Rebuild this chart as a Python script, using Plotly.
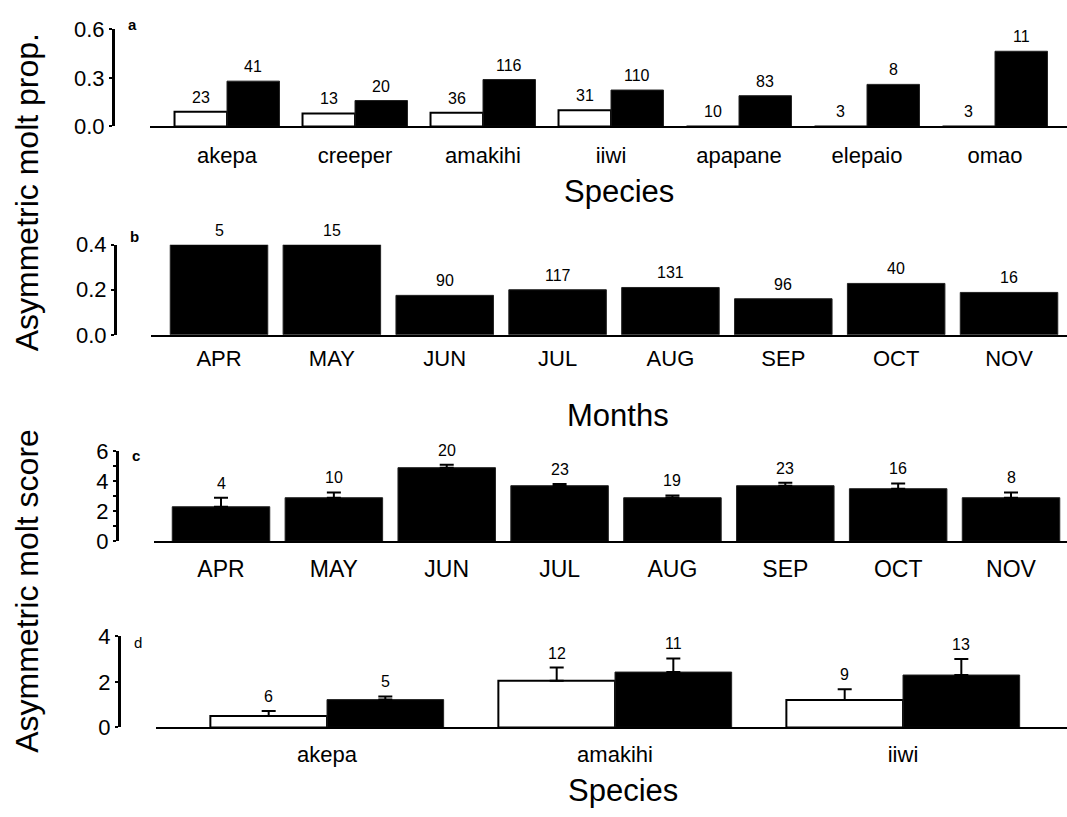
import plotly.graph_objects as go

FONT = "Liberation Sans, Arial, Helvetica, sans-serif"
W, H = 1067, 817

# ---- panel a: proportion with asymmetric molt, by species ----
species_a = ["akepa", "creeper", "amakihi", "iiwi", "apapane", "elepaio", "omao"]
prop_open = [0.09, 0.08, 0.085, 0.10, 0.0, 0.0, 0.0]
prop_filled = [0.28, 0.16, 0.29, 0.225, 0.19, 0.26, 0.465]
n_open_a = [23, 13, 36, 31, 10, 3, 3]
n_filled_a = [41, 20, 116, 110, 83, 8, 11]

# ---- panel b: proportion with asymmetric molt, by month ----
months = ["APR", "MAY", "JUN", "JUL", "AUG", "SEP", "OCT", "NOV"]
prop_month = [0.40, 0.40, 0.175, 0.20, 0.21, 0.16, 0.228, 0.188]
n_month = [5, 15, 90, 117, 131, 96, 40, 16]

# ---- panel c: asymmetric molt score, by month ----
score_month = [2.3, 2.9, 4.9, 3.7, 2.9, 3.7, 3.5, 2.9]
score_month_se = [0.6, 0.35, 0.2, 0.12, 0.15, 0.2, 0.35, 0.35]
n_score_month = [4, 10, 20, 23, 19, 23, 16, 8]

# ---- panel d: asymmetric molt score, by species ----
species_d = ["akepa", "amakihi", "iiwi"]
score_open = [0.5, 2.05, 1.2]
score_open_se = [0.22, 0.58, 0.48]
score_filled = [1.22, 2.43, 2.3]
score_filled_se = [0.14, 0.6, 0.7]
n_open_d = [6, 12, 9]
n_filled_d = [5, 11, 13]


def fx(p):
    return p / W


def fy(p):
    return 1 - p / H


fig = go.Figure()
annotations = []


def n_labels(xs, tops, ns, xref, yref):
    for x, t, n in zip(xs, tops, ns):
        annotations.append(dict(
            x=x, y=t, xref=xref, yref=yref, text=str(n), showarrow=False,
            yanchor="bottom", xanchor="center", yshift=4,
            font=dict(size=16, color="black", family=FONT)))


def err(se):
    return dict(type="data", array=se, arrayminus=[0] * len(se), symmetric=False,
                color="black", thickness=2, width=7)


# panel a bars (paired)
wa = 0.41
ia = list(range(len(species_a)))
fig.add_trace(go.Bar(x=ia, y=prop_open, width=wa, offset=-wa, xaxis="x", yaxis="y",
                     marker=dict(color="white", line=dict(color="black", width=2))))
fig.add_trace(go.Bar(x=ia, y=prop_filled, width=wa, offset=0, xaxis="x", yaxis="y",
                     marker=dict(color="black", line=dict(color="#222", width=1))))
n_labels([i - wa / 2 for i in ia], prop_open, n_open_a, "x", "y")
n_labels([i + wa / 2 for i in ia], prop_filled, n_filled_a, "x", "y")

# panel b bars
wb = 0.864
ib = list(range(len(months)))
fig.add_trace(go.Bar(x=ib, y=prop_month, width=wb, xaxis="x2", yaxis="y2",
                     marker=dict(color="black", line=dict(color="#222", width=1))))
n_labels(ib, prop_month, n_month, "x2", "y2")

# panel c bars with standard errors
fig.add_trace(go.Bar(x=ib, y=score_month, width=wb, xaxis="x3", yaxis="y3",
                     error_y=err(score_month_se),
                     marker=dict(color="black", line=dict(color="#222", width=1))))
n_labels(ib, [v + e for v, e in zip(score_month, score_month_se)], n_score_month, "x3", "y3")

# panel d bars (paired) with standard errors
wd = 0.405
idd = list(range(len(species_d)))
fig.add_trace(go.Bar(x=idd, y=score_open, width=wd, offset=-wd, xaxis="x4", yaxis="y4",
                     error_y=err(score_open_se),
                     marker=dict(color="white", line=dict(color="black", width=2))))
fig.add_trace(go.Bar(x=idd, y=score_filled, width=wd, offset=0, xaxis="x4", yaxis="y4",
                     error_y=err(score_filled_se),
                     marker=dict(color="black", line=dict(color="#222", width=1))))
n_labels([i - wd / 2 for i in idd], [v + e for v, e in zip(score_open, score_open_se)],
         n_open_d, "x4", "y4")
n_labels([i + wd / 2 for i in idd], [v + e for v, e in zip(score_filled, score_filled_se)],
         n_filled_d, "x4", "y4")


def xaxis(domain_px, rng, vals, text, size, standoff):
    return dict(domain=[fx(domain_px[0]), fx(domain_px[1])], range=list(rng),
                tickvals=vals, ticktext=text, ticks="", showline=True,
                linecolor="black", linewidth=2, showgrid=False, zeroline=False,
                tickfont=dict(size=size, color="black", family=FONT),
                ticklabelstandoff=standoff, fixedrange=True)


def yaxis(domain_px, pos_px, rng, vals, text, size=22):
    return dict(domain=[fy(domain_px[1]), fy(domain_px[0])], range=list(rng),
                anchor="free", position=fx(pos_px),
                tickvals=vals, ticktext=text, ticks="outside", ticklen=3,
                tickwidth=1.5, tickcolor="black", showline=True, linecolor="black",
                linewidth=3, showgrid=False, zeroline=False,
                tickfont=dict(size=size, color="black", family=FONT),
                ticklabelstandoff=0, fixedrange=True)


layout = dict(
    width=W, height=H, margin=dict(l=0, r=0, t=0, b=0),
    paper_bgcolor="white", plot_bgcolor="white", showlegend=False,
    barmode="overlay", font=dict(family=FONT, color="black"),
    xaxis=xaxis((150, W), (-0.6016, 6.5625), ia, species_a, 22, 8),
    yaxis=yaxis((18, 118), 113, (0, 0.6), [0, 0.3, 0.6], ["0.0", "0.3", "0.6"]),
    xaxis2=xaxis((151, W), (-0.6025, 7.5137), ib, months, 22, 3),
    yaxis2=yaxis((240, 333), 115, (0, 0.4), [0, 0.2, 0.4], ["0.0", "0.2", "0.4"]),
    xaxis3=xaxis((154, W), (-0.5937, 7.4960), ib, months, 23, 6),
    yaxis3=yaxis((453, 546), 117, (0, 6), [0, 2, 4, 6], ["0", "2", "4", "6"]),
    xaxis4=xaxis((156, W), (-0.59375, 2.5694), idd, species_d, 22, 6),
    yaxis4=yaxis((644, 738), 119, (0, 4), [0, 2, 4], ["0", "2", "4"]),
)
layout["xaxis"]["anchor"] = "y"
layout["xaxis2"]["anchor"] = "y2"
layout["xaxis3"]["anchor"] = "y3"
layout["xaxis4"]["anchor"] = "y4"
layout["yaxis3"]["minor"] = dict(tickvals=[1, 3, 5], ticks="outside", ticklen=3,
                                 tickwidth=1.5, tickcolor="black")


def paper_text(text, x, y, size, bold=False, angle=0):
    annotations.append(dict(
        x=fx(x), y=fy(y), xref="paper", yref="paper", showarrow=False,
        text=f"<b>{text}</b>" if bold else text, textangle=angle,
        xanchor="center", yanchor="middle",
        font=dict(size=size, color="black", family=FONT)))


# panel letters
paper_text("a", 132, 13, 15, bold=True)
paper_text("b", 134, 232, 15, bold=True)
paper_text("c", 136, 457, 15, bold=True)
paper_text("d", 138, 650, 15)

# axis titles
paper_text("Species", 619, 185, 31)
paper_text("Months", 618, 416, 31)
paper_text("Species", 623, 803, 31)
paper_text("Asymmetric molt prop.", 27, 186, 32, angle=-90)
paper_text("Asymmetric molt score", 27, 597, 32, angle=-90)

layout["annotations"] = annotations
fig.update_layout(**layout)
fig.write_html("out.html", post_script="document.body.style.margin='0';")
